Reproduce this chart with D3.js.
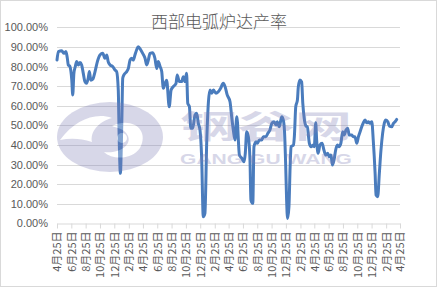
<!DOCTYPE html>
<html><head><meta charset="utf-8">
<script src="https://cdn.jsdelivr.net/npm/d3@7"></script>
<style>html,body{margin:0;padding:0;background:#fff;}svg{display:block;}</style>
</head><body><div id="chart"></div>
<script>
const title = "西部电弧炉达产率";
const yTicks = [0,0.1,0.2,0.3,0.4,0.5,0.6,0.7,0.8,0.9,1.0];
const tickDates = ["2019-04-25","2019-06-25","2019-08-25","2019-10-25","2019-12-25","2020-02-25","2020-04-25","2020-06-25","2020-08-25","2020-10-25","2020-12-25","2021-02-25","2021-04-25","2021-06-25","2021-08-25","2021-10-25","2021-12-25","2022-02-25","2022-04-25","2022-06-25","2022-08-25","2022-10-25","2022-12-25","2023-02-25","2023-04-25"];
const tickLabels = ["4月25日","6月25日","8月25日","10月25日","12月25日","2月25日","4月25日","6月25日","8月25日","10月25日","12月25日","2月25日","4月25日","6月25日","8月25日","10月25日","12月25日","2月25日","4月25日","6月25日","8月25日","10月25日","12月25日","2月25日","4月25日"];
const dates = ["2019-04-25","2019-05-01","2019-05-15","2019-05-25","2019-06-02","2019-06-08","2019-06-12","2019-06-19","2019-06-27","2019-07-01",
"2019-07-06","2019-07-12","2019-07-18","2019-07-25","2019-08-01","2019-08-08","2019-08-15","2019-08-22","2019-08-29","2019-09-05",
"2019-09-10","2019-09-16","2019-09-24","2019-10-04","2019-10-14","2019-10-25","2019-11-06","2019-11-15","2019-11-23","2019-11-29",
"2019-12-07","2019-12-18","2019-12-28","2020-01-04","2020-01-11","2020-01-15","2020-01-20","2020-01-26","2020-01-30","2020-02-04",
"2020-02-16","2020-02-23","2020-03-01","2020-03-08","2020-03-15","2020-03-22","2020-03-29","2020-04-05","2020-04-16","2020-04-24",
"2020-05-04","2020-05-11","2020-05-18","2020-05-25","2020-06-06","2020-06-15","2020-06-23","2020-06-29","2020-07-07","2020-07-14",
"2020-07-21","2020-07-28","2020-08-04","2020-08-15","2020-08-23","2020-09-01","2020-09-13","2020-09-18","2020-09-27","2020-10-07",
"2020-10-14","2020-10-21","2020-10-28","2020-11-02","2020-11-09","2020-11-15","2020-11-23","2020-12-03","2020-12-10","2020-12-17",
"2020-12-24","2020-12-31","2021-01-07","2021-01-14","2021-01-22","2021-01-29","2021-02-05","2021-02-12","2021-02-19","2021-03-02",
"2021-03-12","2021-03-22","2021-04-02","2021-04-10","2021-04-19","2021-05-01","2021-05-08","2021-05-15","2021-05-22","2021-05-30",
"2021-06-10","2021-06-20","2021-06-30","2021-07-05","2021-07-11","2021-07-18","2021-07-25","2021-07-29","2021-08-06","2021-08-11",
"2021-08-20","2021-08-25","2021-09-03","2021-09-13","2021-09-20","2021-10-01","2021-10-09","2021-10-18","2021-10-26","2021-11-04",
"2021-11-13","2021-11-18","2021-11-27","2021-12-07","2021-12-14","2021-12-19","2021-12-24","2021-12-28","2022-01-01","2022-01-07",
"2022-01-12","2022-01-16","2022-01-26","2022-01-30","2022-02-05","2022-02-12","2022-02-16","2022-02-23","2022-03-02","2022-03-07",
"2022-03-13","2022-03-21","2022-03-26","2022-04-04","2022-04-11","2022-04-21","2022-04-25","2022-05-01","2022-05-05","2022-05-11",
"2022-05-19","2022-05-28","2022-06-05","2022-06-13","2022-06-21","2022-06-28","2022-07-05","2022-07-11","2022-07-18","2022-07-25",
"2022-08-01","2022-08-08","2022-08-16","2022-08-24","2022-08-30","2022-09-07","2022-09-14","2022-09-21","2022-10-01","2022-10-08",
"2022-10-15","2022-10-23","2022-10-30","2022-11-06","2022-11-13","2022-11-20","2022-11-27","2022-12-04","2022-12-11","2022-12-18",
"2022-12-26","2023-01-01","2023-01-09","2023-01-13","2023-01-20","2023-01-27","2023-02-03","2023-02-10","2023-02-17","2023-02-24",
"2023-03-04","2023-03-11","2023-03-21","2023-03-28","2023-04-04","2023-04-11"];
const rates = [83.3,87.6,88.0,86.7,87.6,84.2,80.8,80.0,73.0,65.5,
76.5,80.0,82.5,80.8,82.0,80.8,76.5,72.3,71.4,74.0,
77.4,73.0,73.5,77.4,82.5,85.9,86.7,84.2,85.9,82.5,
80.8,80.0,78.2,77.4,68.0,42.5,25.5,51.0,74.0,75.7,
77.4,79.0,83.3,84.2,83.3,85.9,88.4,90.1,88.4,86.7,
84.2,80.8,83.3,86.7,87.0,84.2,79.0,82.5,80.0,77.4,
68.9,71.4,73.0,59.5,68.0,69.7,71.4,75.7,72.3,72.3,
74.8,72.3,76.5,61.2,59.5,48.5,48.5,55.3,56.1,51.0,
47.6,34.0,3.4,5.1,42.5,62.0,68.0,66.3,68.0,66.3,
67.1,68.9,71.4,69.7,65.5,62.0,54.4,47.6,42.5,54.4,
34.8,33.2,31.4,35.7,46.7,44.2,32.3,11.9,10.2,39.1,
41.6,40.8,42.5,42.5,44.2,44.2,45.9,47.6,51.0,51.8,
50.2,51.8,49.3,54.4,52.7,47.0,30.0,12.0,2.5,8.5,
28.9,39.1,39.9,44.2,59.5,62.9,69.7,73.1,72.2,61.2,
53.6,49.6,49.3,40.8,39.1,39.9,39.1,51.3,42.5,35.7,
39.9,40.8,37.4,34.8,35.7,34.0,34.8,29.7,32.3,37.4,
39.9,39.1,40.8,46.7,45.0,47.6,48.5,45.0,45.0,44.2,
44.2,40.8,44.2,46.7,49.3,51.3,52.7,51.3,51.8,51.0,
51.8,42.5,25.5,14.4,13.6,25.5,37.4,45.9,51.0,52.7,
51.8,49.6,49.3,51.0,51.8,53.0];

const W = 438, H = 290;
const parse = d3.timeParse("%Y-%m-%d");
const data = dates.map((d,i)=>({date:parse(d), v:rates[i]/100}));

const svg = d3.select("#chart").append("svg").attr("width",W).attr("height",H);
svg.append("rect").attr("x",0).attr("y",0).attr("width",W).attr("height",H).attr("fill","#fff");
svg.append("rect").attr("x",0.5).attr("y",0.5).attr("width",436).attr("height",286)
  .attr("fill","none").attr("stroke","#d9d9d9");

const x = d3.scaleTime().domain([parse(tickDates[0]), parse(tickDates[tickDates.length-1])]).range([57,400]);
const y = d3.scaleLinear().domain([0,1]).range([223.3,27.3]);

// gridlines
svg.append("g").selectAll("line").data(yTicks.slice(1)).join("line")
  .attr("x1",57).attr("x2",400).attr("y1",d=>Math.round(y(d))+0.5).attr("y2",d=>Math.round(y(d))+0.5)
  .attr("stroke","#d9d9d9").attr("stroke-width",1);

// y axis labels
const yAxis = d3.axisLeft(y).tickValues(yTicks).tickFormat(d3.format(".2%")).tickSize(0).tickPadding(0);
const gy = svg.append("g").attr("transform","translate(48,0)").call(yAxis);
gy.select(".domain").remove();
gy.selectAll("text").attr("font-family","'Liberation Sans', Arial, sans-serif").attr("font-size",11).attr("fill","#595959");

// x axis
const tickMap = new Map(tickDates.map((d,i)=>[+parse(d), tickLabels[i]]));
const xAxis = d3.axisBottom(x).tickValues(tickDates.map(parse)).tickFormat(d=>tickMap.get(+d)).tickSize(5).tickSizeOuter(0);
const gx = svg.append("g").attr("transform",`translate(0,${Math.round(y(0))+0.5})`).call(xAxis);
gx.select(".domain").attr("stroke","#d9d9d9");
gx.selectAll(".tick line").attr("stroke","#d9d9d9");
gx.selectAll("text")
  .attr("font-family","'Noto Sans CJK SC', 'Liberation Sans', sans-serif").attr("font-size",11).attr("fill","#595959")
  .attr("text-anchor","end").attr("transform","rotate(-90)").attr("x",-8).attr("y",0).attr("dy","0.36em");

// line
const line = d3.line().x(d=>x(d.date)).y(d=>y(d.v)).curve(d3.curveMonotoneX);
svg.append("path").datum(data).attr("d",line).attr("fill","none")
  .attr("stroke","#4a7cbd").attr("stroke-width",3).attr("stroke-linejoin","round").attr("stroke-linecap","round");

// watermark
const wm = svg.append("g").attr("opacity",0.3);
wm.append("ellipse").attr("cx",110).attr("cy",137).attr("rx",53).attr("ry",35).attr("fill","#7d7db5");
wm.append("path").attr("d","M60,140 C75,120 95,112 112,118 C98,122 90,132 92,142 C80,138 70,138 60,140 Z").attr("fill","#fff");
wm.append("path").attr("d","M112,126 C132,116 150,130 140,148 C132,160 112,160 104,152 C118,154 132,146 128,136 C124,128 116,128 112,126 Z").attr("fill","#fff");
wm.append("circle").attr("cx",122).attr("cy",138).attr("r",5).attr("fill","#fff");
wm.append("text").attr("x",180).attr("y",138).attr("textLength",172).attr("lengthAdjust","spacingAndGlyphs")
  .attr("font-family","'Noto Sans CJK SC', sans-serif").attr("font-weight","bold").attr("font-size",32).attr("fill","#7d7db5").text("钢谷网");
wm.append("text").attr("x",180).attr("y",164).attr("textLength",172).attr("lengthAdjust","spacingAndGlyphs")
  .attr("font-family","'Liberation Sans', sans-serif").attr("font-weight","bold").attr("font-size",14).attr("fill","#7d7db5").text("GANG GU WANG");

// title
svg.append("text").attr("x",219).attr("y",28).attr("text-anchor","middle")
  .attr("font-family","'Noto Sans CJK SC', sans-serif").attr("font-weight",300).attr("font-size",17).attr("fill","#595959").text(title);
</script></body></html>
